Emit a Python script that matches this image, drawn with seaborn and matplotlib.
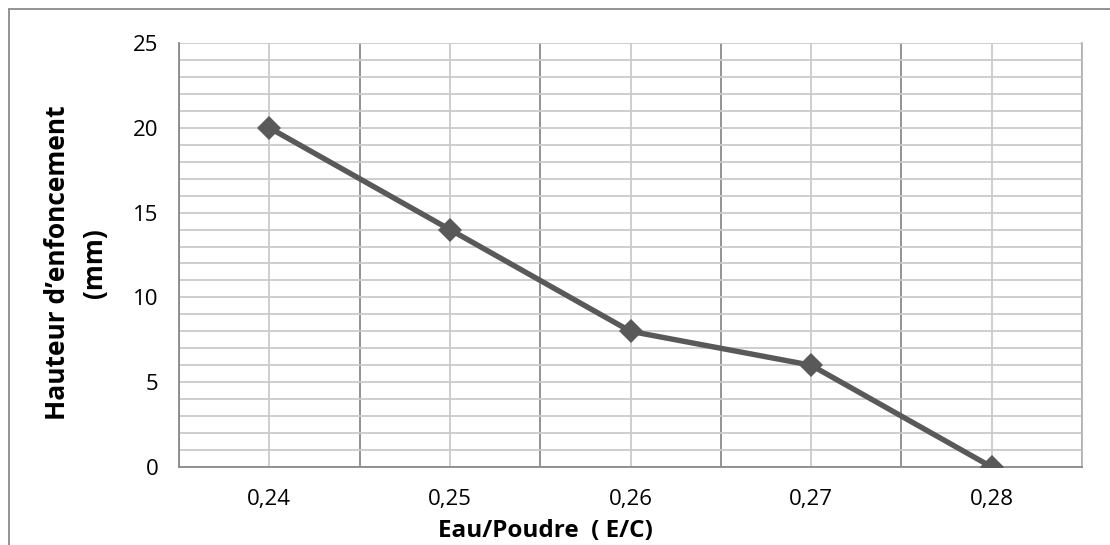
import matplotlib
matplotlib.use("Agg")
import matplotlib.pyplot as plt
from matplotlib.lines import Line2D
from matplotlib.ticker import MultipleLocator, FixedLocator
import pandas as pd
import seaborn as sns

# Water/powder ratios and measured penetration depth
ratios = ["0,24", "0,25", "0,26", "0,27", "0,28"]
depth_mm = [20, 14, 8, 6, 0]

sns.set_theme(style="white")
plt.rcParams["font.family"] = ["Open Sans", "DejaVu Sans"]
plt.rcParams["text.color"] = "black"

df = pd.DataFrame({"ratio": ratios, "depth": depth_mm})

W, H = 1110, 545
fig = plt.figure(figsize=(W / 100, H / 100), dpi=100)
ax = fig.add_axes([179 / W, 1 - 467 / H, (1082 - 179) / W, (467 - 43) / H])

sns.lineplot(data=df, x="ratio", y="depth", ax=ax, color="#595959",
             linewidth=3.9, marker="D", markersize=12, markeredgewidth=0,
             sort=False, zorder=5)

ax.set_xlim(-0.5, len(ratios) - 0.5)
ax.set_ylim(0, 25)

grid_light = "#cacaca"
grid_dark = "#8a8a8a"

# y axis: labels every 5, grid every 1
ax.yaxis.set_major_locator(MultipleLocator(5))
ax.yaxis.set_minor_locator(MultipleLocator(1))
ax.grid(which="both", axis="y", color=grid_light, linewidth=1.3)

# x axis: labels at category centres, category boundaries as darker lines
ax.set_xticks(range(len(ratios)))
ax.set_xticklabels(ratios)
ax.xaxis.set_minor_locator(FixedLocator([i - 0.5 for i in range(len(ratios) + 1)]))
ax.grid(which="major", axis="x", color=grid_light, linewidth=1.3)
ax.grid(which="minor", axis="x", color=grid_dark, linewidth=1.3)

ax.tick_params(axis="x", which="major", length=0, pad=16, labelsize=16, labelcolor="black")
ax.tick_params(axis="x", which="minor", length=8, width=1.3, color=grid_dark, direction="out")
ax.tick_params(axis="y", which="major", length=8, width=1.3, color=grid_dark,
               direction="out", pad=7, labelsize=16, labelcolor="black")
ax.tick_params(axis="y", which="minor", length=0)

for side in ("left", "bottom"):
    ax.spines[side].set_color(grid_dark)
    ax.spines[side].set_linewidth(1.3)
ax.spines["top"].set_visible(False)
ax.spines["right"].set_color("#b5b5b5")
ax.spines["right"].set_linewidth(1.3)

ax.set_xlabel("")
ax.set_ylabel("")
fig.text(545 / W, 1 - 531 / H, "Eau/Poudre  ( E/C)", fontsize=17.5, fontweight="bold",
         ha="center", va="center", color="black")
fig.text(76 / W, 1 - 263 / H, "Hauteur d\u2019enfoncement\n(mm)", fontsize=19,
         fontweight="bold", rotation=90, ha="center", va="center",
         multialignment="center", linespacing=1.45, color="black")

# chart frame
fig.add_artist(Line2D([9 / W, 9 / W], [0, 1 - 9 / H], transform=fig.transFigure,
                      color=grid_dark, linewidth=1.3))
fig.add_artist(Line2D([9 / W, 1], [1 - 9 / H, 1 - 9 / H], transform=fig.transFigure,
                      color=grid_dark, linewidth=1.3))

fig.savefig("out.png", dpi=100, facecolor="white")
